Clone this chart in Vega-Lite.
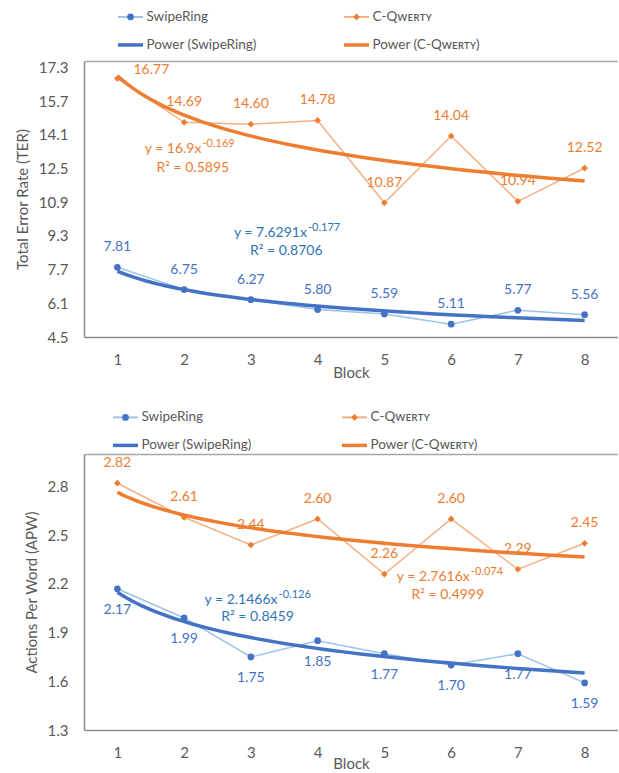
{
  "$schema": "https://vega.github.io/schema/vega-lite/v6.json",
  "background": "white",
  "padding": {"left": 15, "top": 0, "right": 0, "bottom": 0},
  "spacing": 0,
  "datasets": {
    "ter": [
      {"block": 1, "series": "SwipeRing", "value": 7.81},
      {"block": 2, "series": "SwipeRing", "value": 6.75},
      {"block": 3, "series": "SwipeRing", "value": 6.27},
      {"block": 4, "series": "SwipeRing", "value": 5.80},
      {"block": 5, "series": "SwipeRing", "value": 5.59},
      {"block": 6, "series": "SwipeRing", "value": 5.11},
      {"block": 7, "series": "SwipeRing", "value": 5.77},
      {"block": 8, "series": "SwipeRing", "value": 5.56},
      {"block": 1, "series": "C-QWERTY", "value": 16.77},
      {"block": 2, "series": "C-QWERTY", "value": 14.69},
      {"block": 3, "series": "C-QWERTY", "value": 14.60},
      {"block": 4, "series": "C-QWERTY", "value": 14.78},
      {"block": 5, "series": "C-QWERTY", "value": 10.87},
      {"block": 6, "series": "C-QWERTY", "value": 14.04},
      {"block": 7, "series": "C-QWERTY", "value": 10.94},
      {"block": 8, "series": "C-QWERTY", "value": 12.52}
    ],
    "apw": [
      {"block": 1, "series": "SwipeRing", "value": 2.17},
      {"block": 2, "series": "SwipeRing", "value": 1.99},
      {"block": 3, "series": "SwipeRing", "value": 1.75},
      {"block": 4, "series": "SwipeRing", "value": 1.85},
      {"block": 5, "series": "SwipeRing", "value": 1.77},
      {"block": 6, "series": "SwipeRing", "value": 1.70},
      {"block": 7, "series": "SwipeRing", "value": 1.77},
      {"block": 8, "series": "SwipeRing", "value": 1.59},
      {"block": 1, "series": "C-QWERTY", "value": 2.82},
      {"block": 2, "series": "C-QWERTY", "value": 2.61},
      {"block": 3, "series": "C-QWERTY", "value": 2.44},
      {"block": 4, "series": "C-QWERTY", "value": 2.60},
      {"block": 5, "series": "C-QWERTY", "value": 2.26},
      {"block": 6, "series": "C-QWERTY", "value": 2.60},
      {"block": 7, "series": "C-QWERTY", "value": 2.29},
      {"block": 8, "series": "C-QWERTY", "value": 2.45}
    ],
    "eq": [
      {"panel": "TER", "series": "SwipeRing", "part": "base", "block": 3.84, "value": 9.42, "text": "y = 7.6291x"},
      {"panel": "TER", "series": "SwipeRing", "part": "exp", "block": 3.84, "value": 9.42, "text": "-0.177"},
      {"panel": "TER", "series": "SwipeRing", "part": "r2", "block": 3.53, "value": 8.56, "text": "R² = 0.8706"},
      {"panel": "TER", "series": "C-QWERTY", "part": "base", "block": 2.26, "value": 13.41, "text": "y = 16.9x"},
      {"panel": "TER", "series": "C-QWERTY", "part": "exp", "block": 2.26, "value": 13.41, "text": "-0.169"},
      {"panel": "TER", "series": "C-QWERTY", "part": "r2", "block": 2.13, "value": 12.53, "text": "R² = 0.5895"},
      {"panel": "APW", "series": "SwipeRing", "part": "base", "block": 3.40, "value": 2.099, "text": "y = 2.1466x"},
      {"panel": "APW", "series": "SwipeRing", "part": "exp", "block": 3.40, "value": 2.099, "text": "-0.126"},
      {"panel": "APW", "series": "SwipeRing", "part": "r2", "block": 3.10, "value": 1.994, "text": "R² = 0.8459"},
      {"panel": "APW", "series": "C-QWERTY", "part": "base", "block": 6.28, "value": 2.241, "text": "y = 2.7616x"},
      {"panel": "APW", "series": "C-QWERTY", "part": "exp", "block": 6.28, "value": 2.241, "text": "-0.074"},
      {"panel": "APW", "series": "C-QWERTY", "part": "r2", "block": 5.95, "value": 2.130, "text": "R² = 0.4999"}
    ],
    "legend": [
      {"key": "SwipeRing", "kind": "series", "row": "1", "col": "1", "label": "SwipeRing"},
      {"key": "C-QWERTY", "kind": "series", "row": "1", "col": "2", "label": "C-Qᴡᴇʀᴛʏ"},
      {"key": "SwipeRing", "kind": "power", "row": "2", "col": "1", "label": "Power (SwipeRing)"},
      {"key": "C-QWERTY", "kind": "power", "row": "2", "col": "2", "label": "Power (C-Qᴡᴇʀᴛʏ)"}
    ]
  },
  "resolve": {"scale": {"x": "independent", "y": "independent"}},
  "vconcat": [
    {
      "width": 534,
      "height": 60,
      "data": {"name": "legend"},
      "encoding": {
        "x": {"field": "col", "type": "nominal", "scale": {"type": "point", "padding": 0.6814, "align": 0.151}, "axis": null},
        "y": {"field": "row", "type": "nominal", "scale": {"type": "point", "padding": 0.5714, "align": 0.53}, "axis": null}
      },
      "layer": [
        {"transform": [{"filter": "datum.kind == 'series'"}], "mark": {"type": "point", "shape": "M-1,0L1,0", "size": 625, "filled": false, "strokeWidth": 2, "opacity": 1, "strokeCap": "butt"},
         "encoding": {"stroke": {"field": "key", "type": "nominal", "scale": {"domain": ["SwipeRing", "C-QWERTY"], "range": ["#9DC3E6", "#F4B183"]}, "legend": null}}},
        {"transform": [{"filter": "datum.kind == 'series'"}], "mark": {"type": "point", "filled": true, "size": 45, "opacity": 1},
         "encoding": {"fill": {"field": "key", "type": "nominal", "scale": {"domain": ["SwipeRing", "C-QWERTY"], "range": ["#4472C4", "#ED7D31"]}, "legend": null},
                      "shape": {"field": "key", "type": "nominal", "scale": {"domain": ["SwipeRing", "C-QWERTY"], "range": ["circle", "diamond"]}, "legend": null}}},
        {"transform": [{"filter": "datum.kind == 'power'"}], "mark": {"type": "point", "shape": "M-1,0L1,0", "size": 625, "filled": false, "strokeWidth": 3.5, "opacity": 1, "strokeCap": "butt"},
         "encoding": {"color": {"field": "key", "type": "nominal", "scale": {"domain": ["SwipeRing", "C-QWERTY"], "range": ["#4472C4", "#ED7D31"]}, "legend": null}}},
        {"mark": {"type": "text", "align": "left", "dx": 16, "fontSize": 13.5, "color": "#595959"},
         "encoding": {"text": {"field": "label"}}}
      ]
    },
    {
      "width": 534,
      "height": 276,
      "data": {"name": "ter"},
      "resolve": {"axis": {"x": "independent"}},
      "layer": [
        {
          "encoding": {
            "x": {"field": "block", "type": "quantitative", "scale": {"domain": [0.5, 8.5], "nice": false, "zero": false},
                  "axis": {"values": [1, 2, 3, 4, 5, 6, 7, 8], "format": "d", "title": "Block", "ticks": false, "grid": false, "labelPadding": 15, "titlePadding": -2}},
            "y": {"field": "value", "type": "quantitative", "scale": {"domain": [4.5, 17.6], "nice": false, "zero": false},
                  "axis": {"values": [4.5, 6.1, 7.7, 9.3, 10.9, 12.5, 14.1, 15.7, 17.3], "format": ".1f", "title": "Total Error Rate (TER)", "ticks": false, "grid": false, "labelPadding": 16, "titlePadding": 8}}
          },
          "layer": [
            {"mark": {"type": "line", "strokeWidth": 1.5},
             "encoding": {"stroke": {"field": "series", "type": "nominal", "scale": {"domain": ["SwipeRing", "C-QWERTY"], "range": ["#9DC3E6", "#F4B183"]}, "legend": null}}},
            {"transform": [{"regression": "value", "on": "block", "groupby": ["series"], "method": "pow"}],
             "mark": {"type": "line", "strokeWidth": 3.5},
             "encoding": {"color": {"field": "series", "type": "nominal", "scale": {"domain": ["SwipeRing", "C-QWERTY"], "range": ["#4472C4", "#ED7D31"]}, "legend": null}}},
            {"mark": {"type": "point", "filled": true, "size": 45, "opacity": 1},
             "encoding": {"fill": {"field": "series", "type": "nominal", "scale": {"domain": ["SwipeRing", "C-QWERTY"], "range": ["#4472C4", "#ED7D31"]}, "legend": null},
                          "shape": {"field": "series", "type": "nominal", "scale": {"domain": ["SwipeRing", "C-QWERTY"], "range": ["circle", "diamond"]}, "legend": null}}},
            {"transform": [{"filter": "datum.series == 'SwipeRing' || datum.block > 1"}],
             "mark": {"type": "text", "dy": -20, "fontSize": 14},
             "encoding": {"text": {"field": "value", "type": "quantitative", "format": ".2f"},
                          "color": {"field": "series", "type": "nominal", "scale": {"domain": ["SwipeRing", "C-QWERTY"], "range": ["#4472C4", "#ED7D31"]}, "legend": null}}},
            {"transform": [{"filter": "datum.series == 'C-QWERTY' && datum.block == 1"}],
             "mark": {"type": "text", "dx": 34, "dy": -8, "fontSize": 14},
             "encoding": {"text": {"field": "value", "type": "quantitative", "format": ".2f"},
                          "color": {"field": "series", "type": "nominal", "scale": {"domain": ["SwipeRing", "C-QWERTY"], "range": ["#4472C4", "#ED7D31"]}, "legend": null}}},
            {"data": {"name": "eq"}, "transform": [{"filter": "datum.panel == 'TER' && datum.part == 'base'"}],
             "mark": {"type": "text", "align": "right", "fontSize": 14},
             "encoding": {"text": {"field": "text"}, "color": {"condition": {"test": "datum.series == 'SwipeRing'", "value": "#2E75B6"}, "value": "#ED7D31"}}},
            {"data": {"name": "eq"}, "transform": [{"filter": "datum.panel == 'TER' && datum.part == 'exp'"}],
             "mark": {"type": "text", "align": "left", "fontSize": 11, "dy": -5, "dx": 1},
             "encoding": {"text": {"field": "text"}, "color": {"condition": {"test": "datum.series == 'SwipeRing'", "value": "#2E75B6"}, "value": "#ED7D31"}}},
            {"data": {"name": "eq"}, "transform": [{"filter": "datum.panel == 'TER' && datum.part == 'r2'"}],
             "mark": {"type": "text", "align": "center", "fontSize": 14},
             "encoding": {"text": {"field": "text"}, "color": {"condition": {"test": "datum.series == 'SwipeRing'", "value": "#2E75B6"}, "value": "#ED7D31"}}}
          ]
        },
        {
          "mark": {"type": "point", "opacity": 0},
          "encoding": {
            "x": {"field": "block", "type": "quantitative", "axis": {"orient": "top", "labels": false, "ticks": false, "grid": false, "title": null, "domainColor": "#A6A6A6", "domainWidth": 1.5}},
            "y": {"field": "value", "type": "quantitative", "scale": {"domain": [4.5, 17.6], "nice": false, "zero": false},
                  "axis": {"values": [4.5, 6.1, 7.7, 9.3, 10.9, 12.5, 14.1, 15.7, 17.3], "format": ".1f", "title": "Total Error Rate (TER)", "ticks": false, "grid": false, "labelPadding": 16, "titlePadding": 8}}
          }
        }
      ]
    },
    {
      "width": 534,
      "height": 74,
      "data": {"name": "legend"},
      "encoding": {
        "x": {"field": "col", "type": "nominal", "scale": {"type": "point", "padding": 0.666, "align": 0.136}, "axis": null},
        "y": {"field": "row", "type": "nominal", "scale": {"type": "point", "padding": 0.8214, "align": 0.813}, "axis": null}
      },
      "layer": [
        {"transform": [{"filter": "datum.kind == 'series'"}], "mark": {"type": "point", "shape": "M-1,0L1,0", "size": 625, "filled": false, "strokeWidth": 2, "opacity": 1, "strokeCap": "butt"},
         "encoding": {"stroke": {"field": "key", "type": "nominal", "scale": {"domain": ["SwipeRing", "C-QWERTY"], "range": ["#9DC3E6", "#F4B183"]}, "legend": null}}},
        {"transform": [{"filter": "datum.kind == 'series'"}], "mark": {"type": "point", "filled": true, "size": 45, "opacity": 1},
         "encoding": {"fill": {"field": "key", "type": "nominal", "scale": {"domain": ["SwipeRing", "C-QWERTY"], "range": ["#4472C4", "#ED7D31"]}, "legend": null},
                      "shape": {"field": "key", "type": "nominal", "scale": {"domain": ["SwipeRing", "C-QWERTY"], "range": ["circle", "diamond"]}, "legend": null}}},
        {"transform": [{"filter": "datum.kind == 'power'"}], "mark": {"type": "point", "shape": "M-1,0L1,0", "size": 625, "filled": false, "strokeWidth": 3.5, "opacity": 1, "strokeCap": "butt"},
         "encoding": {"color": {"field": "key", "type": "nominal", "scale": {"domain": ["SwipeRing", "C-QWERTY"], "range": ["#4472C4", "#ED7D31"]}, "legend": null}}},
        {"mark": {"type": "text", "align": "left", "dx": 16, "fontSize": 13.5, "color": "#595959"},
         "encoding": {"text": {"field": "label"}}}
      ]
    },
    {
      "width": 534,
      "height": 276,
      "data": {"name": "apw"},
      "resolve": {"axis": {"x": "independent"}},
      "layer": [
        {
          "encoding": {
            "x": {"field": "block", "type": "quantitative", "scale": {"domain": [0.5, 8.5], "nice": false, "zero": false},
                  "axis": {"values": [1, 2, 3, 4, 5, 6, 7, 8], "format": "d", "title": "Block", "ticks": false, "grid": false, "labelPadding": 15, "titlePadding": -4}},
            "y": {"field": "value", "type": "quantitative", "scale": {"domain": [1.3, 3.0], "nice": false, "zero": false},
                  "axis": {"values": [1.3, 1.6, 1.9, 2.2, 2.5, 2.8], "format": ".1f", "title": "Actions Per Word (APW)", "ticks": false, "grid": false, "labelPadding": 16, "titlePadding": 8}}
          },
          "layer": [
            {"mark": {"type": "line", "strokeWidth": 1.5},
             "encoding": {"stroke": {"field": "series", "type": "nominal", "scale": {"domain": ["SwipeRing", "C-QWERTY"], "range": ["#9DC3E6", "#F4B183"]}, "legend": null}}},
            {"transform": [{"regression": "value", "on": "block", "groupby": ["series"], "method": "pow"}],
             "mark": {"type": "line", "strokeWidth": 3.5},
             "encoding": {"color": {"field": "series", "type": "nominal", "scale": {"domain": ["SwipeRing", "C-QWERTY"], "range": ["#4472C4", "#ED7D31"]}, "legend": null}}},
            {"mark": {"type": "point", "filled": true, "size": 45, "opacity": 1},
             "encoding": {"fill": {"field": "series", "type": "nominal", "scale": {"domain": ["SwipeRing", "C-QWERTY"], "range": ["#4472C4", "#ED7D31"]}, "legend": null},
                          "shape": {"field": "series", "type": "nominal", "scale": {"domain": ["SwipeRing", "C-QWERTY"], "range": ["circle", "diamond"]}, "legend": null}}},
            {"transform": [{"filter": "datum.series == 'C-QWERTY'"}],
             "mark": {"type": "text", "dy": -20, "fontSize": 14},
             "encoding": {"text": {"field": "value", "type": "quantitative", "format": ".2f"},
                          "color": {"field": "series", "type": "nominal", "scale": {"domain": ["SwipeRing", "C-QWERTY"], "range": ["#4472C4", "#ED7D31"]}, "legend": null}}},
            {"transform": [{"filter": "datum.series == 'SwipeRing'"}],
             "mark": {"type": "text", "dy": 21, "fontSize": 14},
             "encoding": {"text": {"field": "value", "type": "quantitative", "format": ".2f"},
                          "color": {"field": "series", "type": "nominal", "scale": {"domain": ["SwipeRing", "C-QWERTY"], "range": ["#4472C4", "#ED7D31"]}, "legend": null}}},
            {"data": {"name": "eq"}, "transform": [{"filter": "datum.panel == 'APW' && datum.part == 'base'"}],
             "mark": {"type": "text", "align": "right", "fontSize": 14},
             "encoding": {"text": {"field": "text"}, "color": {"condition": {"test": "datum.series == 'SwipeRing'", "value": "#2E75B6"}, "value": "#ED7D31"}}},
            {"data": {"name": "eq"}, "transform": [{"filter": "datum.panel == 'APW' && datum.part == 'exp'"}],
             "mark": {"type": "text", "align": "left", "fontSize": 11, "dy": -5, "dx": 1},
             "encoding": {"text": {"field": "text"}, "color": {"condition": {"test": "datum.series == 'SwipeRing'", "value": "#2E75B6"}, "value": "#ED7D31"}}},
            {"data": {"name": "eq"}, "transform": [{"filter": "datum.panel == 'APW' && datum.part == 'r2'"}],
             "mark": {"type": "text", "align": "center", "fontSize": 14},
             "encoding": {"text": {"field": "text"}, "color": {"condition": {"test": "datum.series == 'SwipeRing'", "value": "#2E75B6"}, "value": "#ED7D31"}}}
          ]
        },
        {
          "mark": {"type": "point", "opacity": 0},
          "encoding": {
            "x": {"field": "block", "type": "quantitative", "axis": {"orient": "top", "labels": false, "ticks": false, "grid": false, "title": null, "domainColor": "#A6A6A6", "domainWidth": 1.5}},
            "y": {"field": "value", "type": "quantitative", "scale": {"domain": [1.3, 3.0], "nice": false, "zero": false},
                  "axis": {"values": [1.3, 1.6, 1.9, 2.2, 2.5, 2.8], "format": ".1f", "title": "Actions Per Word (APW)", "ticks": false, "grid": false, "labelPadding": 16, "titlePadding": 8}}
          }
        }
      ]
    }
  ],
  "config": {
    "font": "Lato",
    "view": {"stroke": null},
    "axis": {"labelFont": "Lato", "titleFont": "Lato", "labelFontSize": 15, "titleFontSize": 15, "titleFontWeight": "normal", "labelColor": "#595959", "titleColor": "#595959", "domainColor": "#8C8C8C", "domainWidth": 1.5},
    "text": {"font": "Lato"}
  }
}
